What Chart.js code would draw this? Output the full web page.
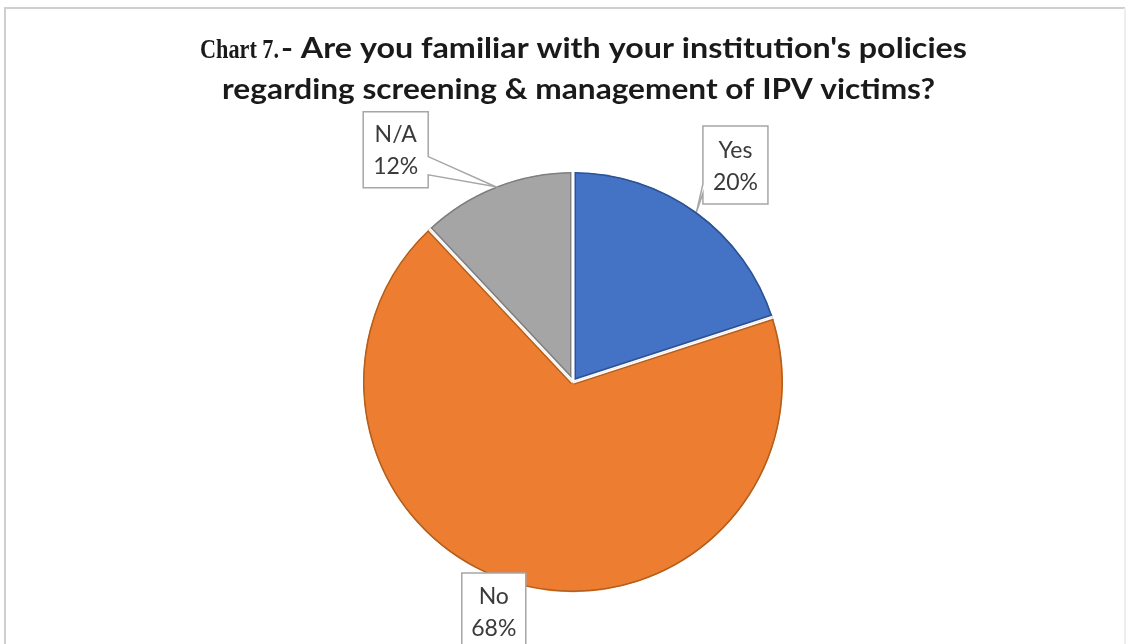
<!DOCTYPE html>
<html>
<head>
<meta charset="utf-8">
<script src="https://cdn.jsdelivr.net/npm/chart.js@4/dist/chart.umd.min.js"></script>
<style>
  html, body { margin: 0; padding: 0; background: #ffffff; }
  #wrap { width: 1132px; height: 644px; position: relative; }
  canvas { display: block; }
</style>
</head>
<body>
<div id="wrap"><canvas id="pie" width="1132" height="644"></canvas></div>
<script>
// Survey answers, in drawing order (clockwise from 12 o'clock)
const categories = ['Yes', 'No', 'N/A'];
const shares = [20, 68, 12];
const percentLabels = ['20%', '68%', '12%'];

const titleLead = 'Chart 7.';
const titleLine1 = '- Are you familiar with your institution\'s policies';
const titleLine2 = 'regarding screening & management of IPV victims?';

// Styling
const fillColors = ['#4472C4', '#ED7D31', '#A5A5A5'];
const edgeColors = ['#2F528F', '#B0601F', '#7F7F7F'];
const sansFont = 'Lato, "Open Sans", "Liberation Sans", sans-serif';
const serifFont = '"Liberation Serif", "DejaVu Serif", serif';

// Title line extents (left edge, right edge, baseline); lead set condensed
const titleRows = [
  { left: 200, right: 967, baseline: 58, leadWidth: 79 },
  { left: 222, right: 935, baseline: 99 }
];

// Callout boxes: offset of box centre from the slice's outer mid point,
// and which box edge the pointer leaves from (fractions along that edge).
const calloutStyle = [
  { dx: 39, dy: -47, w: 65, h: 78, side: 'left',  f1: 0.74, f2: 0.86 },
  { dx: -27, dy: 26, w: 64, h: 77, side: 'none' },
  { dx: -100, dy: -37, w: 65, h: 76, side: 'right', f1: 0.59, f2: 0.83 }
];

// Thin frame around the figure
const framePlugin = {
  id: 'frame',
  beforeDraw(chart) {
    const ctx = chart.ctx;
    ctx.save();
    ctx.strokeStyle = '#cfcfcf';
    ctx.lineWidth = 2;
    ctx.beginPath();
    ctx.moveTo(5, 700); ctx.lineTo(5, 8); ctx.lineTo(1125, 8);
    ctx.stroke();
    ctx.strokeStyle = '#eeeeee';
    ctx.beginPath();
    ctx.moveTo(1125, 8); ctx.lineTo(1125, 700);
    ctx.stroke();
    ctx.restore();
  }
};

// Two-line title: condensed serif "Chart 7." lead, then sans text set a little wide
const titlePlugin = {
  id: 'mixedTitle',
  afterDraw(chart) {
    const ctx = chart.ctx;
    ctx.save();
    ctx.fillStyle = '#1a1a1a';
    ctx.textBaseline = 'alphabetic';
    ctx.textAlign = 'left';
    const leadFont = 'bold 27px ' + serifFont;
    const mainFont = 'bold 28px ' + sansFont;
    const gap = 2;

    const r1 = titleRows[0];
    ctx.font = leadFont;
    const leadW = ctx.measureText(titleLead).width;
    ctx.save();
    ctx.translate(r1.left, r1.baseline);
    ctx.scale(r1.leadWidth / leadW, 1);
    ctx.fillText(titleLead, 0, 0);
    ctx.restore();

    ctx.font = mainFont;
    const w1 = ctx.measureText(titleLine1).width;
    const start1 = r1.left + r1.leadWidth + gap;
    ctx.save();
    ctx.translate(start1, r1.baseline);
    ctx.scale((r1.right - start1) / w1, 1);
    ctx.fillText(titleLine1, 0, 0);
    ctx.restore();

    const r2 = titleRows[1];
    const w2 = ctx.measureText(titleLine2).width;
    ctx.save();
    ctx.translate(r2.left, r2.baseline);
    ctx.scale((r2.right - r2.left) / w2, 1);
    ctx.fillText(titleLine2, 0, 0);
    ctx.restore();
    ctx.restore();
  }
};

// White separators between slices plus a darker inner rim
const sliceRim = {
  id: 'sliceRim',
  afterDatasetsDraw(chart) {
    const ctx = chart.ctx;
    const arcs = chart.getDatasetMeta(0).data;
    arcs.forEach((arc, i) => {
      const p = arc.getProps(['x', 'y', 'startAngle', 'endAngle', 'outerRadius'], true);
      const { x, y, startAngle, endAngle, outerRadius: r } = p;
      ctx.save();
      ctx.beginPath();
      ctx.moveTo(x, y);
      ctx.arc(x, y, r, startAngle, endAngle);
      ctx.closePath();
      ctx.clip();
      ctx.strokeStyle = edgeColors[i];
      ctx.lineWidth = 1.6;
      ctx.beginPath();
      ctx.arc(x, y, r - 0.8, startAngle, endAngle);
      ctx.stroke();
      const d = 2.2;
      [[startAngle, 1], [endAngle, -1]].forEach(([a, s]) => {
        const nx = -Math.sin(a) * s * d, ny = Math.cos(a) * s * d;
        ctx.beginPath();
        ctx.moveTo(x + nx, y + ny);
        ctx.lineTo(x + nx + Math.cos(a) * (r + 5), y + ny + Math.sin(a) * (r + 5));
        ctx.stroke();
      });
      ctx.strokeStyle = '#ffffff';
      ctx.lineWidth = 3;
      [startAngle, endAngle].forEach(a => {
        ctx.beginPath();
        ctx.moveTo(x, y);
        ctx.lineTo(x + Math.cos(a) * (r + 5), y + Math.sin(a) * (r + 5));
        ctx.stroke();
      });
      ctx.restore();
    });
  }
};

// Boxed category / percentage labels with pointers
const calloutPlugin = {
  id: 'callouts',
  afterDatasetsDraw(chart) {
    const ctx = chart.ctx;
    const arcs = chart.getDatasetMeta(0).data;
    arcs.forEach((arc, i) => {
      const p = arc.getProps(['x', 'y', 'startAngle', 'endAngle', 'outerRadius'], true);
      const mid = (p.startAngle + p.endAngle) / 2;
      const tx = p.x + Math.cos(mid) * p.outerRadius;
      const ty = p.y + Math.sin(mid) * p.outerRadius;
      const s = calloutStyle[i];
      const bx = tx + s.dx - s.w / 2, by = ty + s.dy - s.h / 2;
      const L = bx, R = bx + s.w, T = by, B = by + s.h;
      ctx.save();
      ctx.beginPath();
      ctx.moveTo(L, T);
      ctx.lineTo(R, T);
      if (s.side === 'right') {
        ctx.lineTo(R, T + s.h * s.f1);
        ctx.lineTo(tx, ty);
        ctx.lineTo(R, T + s.h * s.f2);
      }
      ctx.lineTo(R, B);
      ctx.lineTo(L, B);
      if (s.side === 'left') {
        ctx.lineTo(L, T + s.h * s.f2);
        ctx.lineTo(tx, ty);
        ctx.lineTo(L, T + s.h * s.f1);
      }
      ctx.closePath();
      ctx.fillStyle = '#ffffff';
      ctx.fill();
      ctx.strokeStyle = '#a6a6a6';
      ctx.lineWidth = 1.5;
      ctx.lineJoin = 'miter';
      ctx.stroke();
      ctx.fillStyle = '#3a3a3a';
      ctx.font = '23px ' + sansFont;
      ctx.textAlign = 'center';
      ctx.textBaseline = 'middle';
      const cx = (L + R) / 2, cy = (T + B) / 2;
      ctx.fillText(categories[i], cx, cy - 15);
      ctx.fillText(percentLabels[i], cx, cy + 17);
      ctx.restore();
    });
  }
};

new Chart(document.getElementById('pie'), {
  type: 'pie',
  data: {
    labels: categories,
    datasets: [{
      data: shares,
      backgroundColor: fillColors,
      borderWidth: 0
    }]
  },
  options: {
    responsive: false,
    animation: false,
    layout: { padding: { top: 172, bottom: 52, left: 363, right: 349 } },
    plugins: {
      legend: { display: false },
      tooltip: { enabled: false },
      title: { display: false }
    }
  },
  plugins: [framePlugin, sliceRim, calloutPlugin, titlePlugin]
});
</script>
</body>
</html>
